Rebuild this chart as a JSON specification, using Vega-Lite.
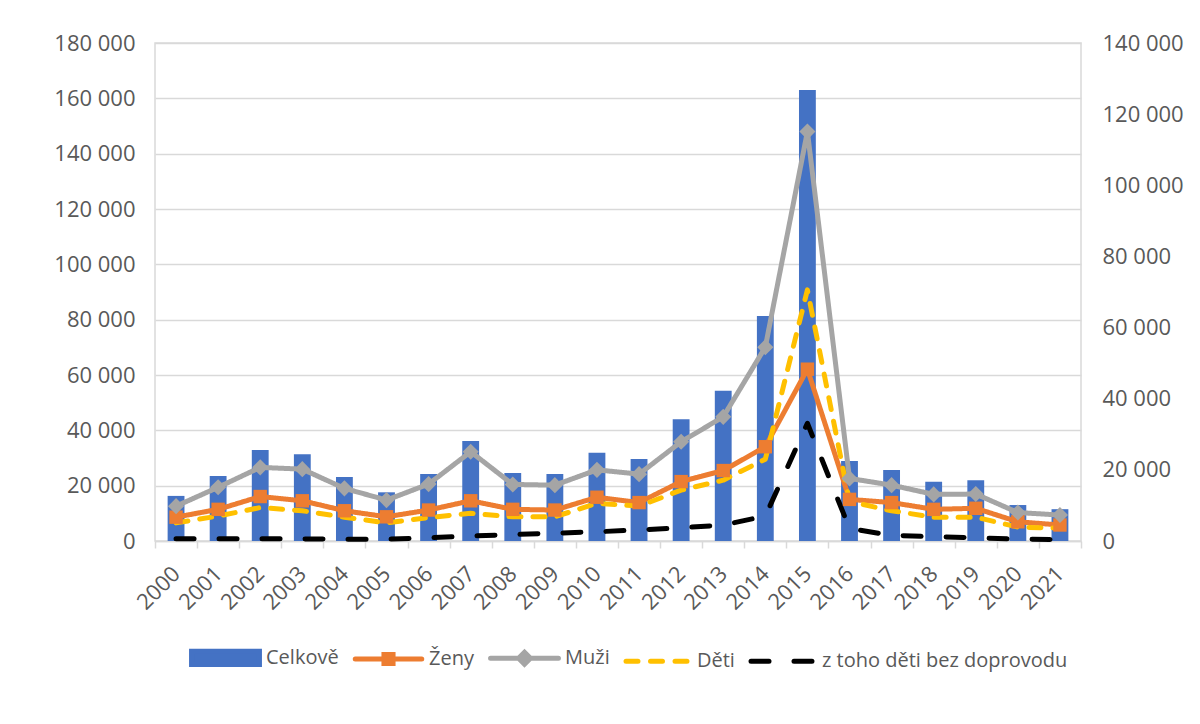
{
  "$schema": "https://vega.github.io/schema/vega-lite/v6.json",
  "width": 926,
  "height": 498,
  "autosize": {"type": "none"},
  "padding": {"left": 155, "top": 43, "right": 119, "bottom": 183},
  "background": "white",
  "config": {
    "font": "Open Sans",
    "view": {"stroke": "#d9d9d9", "strokeWidth": 1.5},
    "axis": {"labelFont": "Open Sans", "labelFontSize": 22, "labelColor": "#595959", "titleColor": "#595959"}
  },
  "data": {
    "values": [
      {"rok": "2000", "Celkově": 16300, "Ženy": 6700, "Muži": 9800, "Děti": 5100, "z toho děti bez doprovodu": 600},
      {"rok": "2001", "Celkově": 23500, "Ženy": 8900, "Muži": 15100, "Děti": 7000, "z toho děti bez doprovodu": 600},
      {"rok": "2002", "Celkově": 32900, "Ženy": 12500, "Muži": 20700, "Děti": 9400, "z toho děti bez doprovodu": 600},
      {"rok": "2003", "Celkově": 31400, "Ženy": 11300, "Muži": 20200, "Děti": 8500, "z toho děti bez doprovodu": 600},
      {"rok": "2004", "Celkově": 23100, "Ženy": 8500, "Muži": 14800, "Děti": 6700, "z toho děti bez doprovodu": 500},
      {"rok": "2005", "Celkově": 17600, "Ženy": 6800, "Muži": 11500, "Děti": 5100, "z toho děti bez doprovodu": 500},
      {"rok": "2006", "Celkově": 24200, "Ženy": 8700, "Muži": 16000, "Děti": 6600, "z toho děti bez doprovodu": 900},
      {"rok": "2007", "Celkově": 36100, "Ženy": 11300, "Muži": 25100, "Děti": 7800, "z toho děti bez doprovodu": 1400},
      {"rok": "2008", "Celkově": 24600, "Ženy": 8900, "Muži": 15900, "Děti": 6800, "z toho děti bez doprovodu": 1800},
      {"rok": "2009", "Celkově": 24200, "Ženy": 8700, "Muži": 15700, "Děti": 6800, "z toho děti bez doprovodu": 2200},
      {"rok": "2010", "Celkově": 31900, "Ženy": 12300, "Muži": 20000, "Děti": 10600, "z toho děti bez doprovodu": 2600},
      {"rok": "2011", "Celkově": 29600, "Ženy": 10800, "Muži": 18800, "Děti": 9800, "z toho děti bez doprovodu": 3100},
      {"rok": "2012", "Celkově": 44000, "Ženy": 16700, "Muži": 27900, "Děti": 14300, "z toho děti bez doprovodu": 3700},
      {"rok": "2013", "Celkově": 54300, "Ženy": 19800, "Muži": 34900, "Děti": 17100, "z toho děti bez doprovodu": 4500},
      {"rok": "2014", "Celkově": 81300, "Ženy": 26500, "Muži": 54500, "Děti": 23000, "z toho děti bez doprovodu": 7000},
      {"rok": "2015", "Celkově": 163000, "Ženy": 48300, "Muži": 115100, "Děti": 70600, "z toho děti bez doprovodu": 33100},
      {"rok": "2016", "Celkově": 28900, "Ženy": 11700, "Muži": 17600, "Děti": 11100, "z toho děti bez doprovodu": 3500},
      {"rok": "2017", "Celkově": 25700, "Ženy": 10800, "Muži": 15700, "Děti": 8500, "z toho děti bez doprovodu": 1600},
      {"rok": "2018", "Celkově": 21400, "Ženy": 8900, "Muži": 13100, "Děti": 6700, "z toho děti bez doprovodu": 1200},
      {"rok": "2019", "Celkově": 22000, "Ženy": 9200, "Muži": 13200, "Děti": 6700, "z toho děti bez doprovodu": 900},
      {"rok": "2020", "Celkově": 13000, "Ženy": 5400, "Muži": 8000, "Děti": 3900, "z toho děti bez doprovodu": 500},
      {"rok": "2021", "Celkově": 11500, "Ženy": 4500, "Muži": 7300, "Děti": 3600, "z toho děti bez doprovodu": 400}
    ]
  },
  "transform": [
    {"fold": ["Celkově", "Ženy", "Muži", "Děti", "z toho děti bez doprovodu"], "as": ["series", "value"]}
  ],
  "encoding": {
    "x": {
      "field": "rok", "type": "ordinal",
      "scale": {"paddingInner": 0, "paddingOuter": 0},
      "axis": {
        "title": null, "labelAngle": -45, "labelAlign": "right", "labelBaseline": "middle",
        "labelPadding": 22, "domainColor": "#d9d9d9", "domainWidth": 1.5,
        "tickColor": "#d9d9d9", "tickWidth": 1.5, "tickSize": 7, "tickBand": "extent", "grid": false
      }
    }
  },
  "layer": [
    {
      "transform": [{"filter": "datum.series === 'Celkově'"}],
      "mark": {"type": "bar", "width": {"band": 0.4}},
      "encoding": {
        "y": {
          "field": "value", "type": "quantitative",
          "scale": {"domain": [0, 180000], "nice": false},
          "axis": {
            "title": null, "values": [0, 20000, 40000, 60000, 80000, 100000, 120000, 140000, 160000, 180000],
            "labelExpr": "replace(format(datum.value, ','), ',', ' ')",
            "grid": true, "gridColor": "#d9d9d9", "gridWidth": 1.5,
            "domain": false, "ticks": false, "labelPadding": 20
          }
        },
        "color": {
          "field": "series", "type": "nominal",
          "scale": {
            "domain": ["Celkově", "Ženy", "Muži", "Děti", "z toho děti bez doprovodu"],
            "range": ["#4472C4", "#ED7D31", "#A5A5A5", "#FFC000", "#000000"]
          },
          "legend": {
            "title": null, "orient": "none", "legendX": 33, "legendY": 577, "direction": "horizontal",
            "symbolSize": 4900, "symbolStrokeWidth": 5, "labelOffset": 3, "columnPadding": 6,
            "labelLimit": 400,
            "labelFont": "Open Sans", "labelFontSize": 20, "labelColor": "#595959",
            "encode": {
              "symbols": {
                "update": {
                  "shape": {"signal": "datum.value === 'Celkově' ? 'M-0.97,-0.19H0.97V0.19H-0.97Z' : datum.value === 'Ženy' ? 'M-0.95,0H0.95M-0.13,-0.13H0.13V0.13H-0.13Z' : datum.value === 'Muži' ? 'M-0.97,0H0.97M0,-0.17L0.17,0L0,0.17L-0.17,0Z' : datum.value === 'Děti' ? 'M-0.871,0H-0.529M-0.171,0H0.171M0.529,0H0.871' : 'M-0.871,0H-0.357M0.357,0H0.871'"},
                  "fill": {"signal": "datum.value === 'Celkově' ? '#4472C4' : datum.value === 'Ženy' ? '#ED7D31' : datum.value === 'Muži' ? '#A5A5A5' : 'transparent'"},
                  "stroke": {"signal": "datum.value === 'Celkově' ? 'transparent' : datum.value === 'Ženy' ? '#ED7D31' : datum.value === 'Muži' ? '#A5A5A5' : datum.value === 'Děti' ? '#FFC000' : '#000000'"},
                  "strokeCap": {"value": "round"},
                  "opacity": {"value": 1}
                }
              }
            }
          }
        }
      }
    },
    {
      "transform": [{"filter": "datum.series !== 'Celkově'"}],
      "layer": [
        {
          "mark": {"type": "line", "strokeWidth": 5, "strokeCap": "round", "strokeJoin": "round"},
          "encoding": {
            "y": {
              "field": "value", "type": "quantitative",
              "scale": {"domain": [0, 140000], "nice": false},
              "axis": {
                "title": null, "orient": "right",
                "values": [0, 20000, 40000, 60000, 80000, 100000, 120000, 140000],
                "labelExpr": "replace(format(datum.value, ','), ',', ' ')",
                "grid": false, "domain": false, "ticks": false, "labelPadding": 21
              }
            },
            "color": {"field": "series", "type": "nominal"},
            "strokeDash": {
              "field": "series", "type": "nominal",
              "scale": {
                "domain": ["Ženy", "Muži", "Děti", "z toho děti bez doprovodu"],
                "range": [[1, 0], [1, 0], [12, 12], [18, 25]]
              },
              "legend": null
            }
          }
        },
        {
          "transform": [{"filter": "datum.series === 'Ženy'"}],
          "mark": {"type": "point", "shape": "square", "filled": true, "size": 180, "opacity": 1, "color": "#ED7D31"},
          "encoding": {"y": {"field": "value", "type": "quantitative"}}
        },
        {
          "transform": [{"filter": "datum.series === 'Muži'"}],
          "mark": {"type": "point", "shape": "diamond", "filled": true, "size": 260, "opacity": 1, "color": "#A5A5A5"},
          "encoding": {"y": {"field": "value", "type": "quantitative"}}
        }
      ]
    }
  ],
  "resolve": {"scale": {"y": "independent"}}
}
